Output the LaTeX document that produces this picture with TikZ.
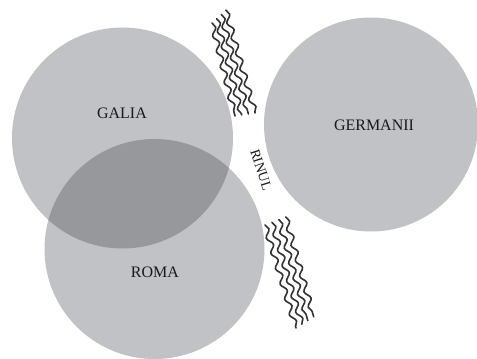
\documentclass[tikz,border=0pt]{standalone}
\usepackage{fontspec}
\setmainfont{Liberation Serif}
\usetikzlibrary{decorations.pathmorphing}
\definecolor{disc}{RGB}{192,194,197}
\definecolor{overlapc}{RGB}{150,152,155}
\definecolor{wave}{RGB}{50,50,52}
\tikzset{
  land/.style={fill=disc, draw=none},
  label/.style={font=\fontsize{16}{18}\selectfont, text=black!90},
  river/.style={draw=wave, line width=1.6pt, line cap=round,
    decorate, decoration={snake, amplitude=2.6pt, segment length=16pt}}
}
\begin{document}
\begin{tikzpicture}[x=1pt,y=-1pt]
\useasboundingbox (0,0) rectangle (477,359);
\fill[white] (0,0) rectangle (477,359);
% circles
\coordinate (cg) at (122.5,138);
\coordinate (cr) at (154.5,249);
\coordinate (cm) at (371,124.5);
\fill[land] (cg) circle (110.5pt);
\fill[land] (cr) circle (110pt);
\fill[land] (cm) circle (107pt);
\begin{scope}
  \clip (cg) circle (110.5pt);
  \fill[overlapc] (cr) circle (110pt);
\end{scope}
% labels
\node[label] (galia) at (122,113) {GALIA};
\node[label] (roma) at (155,272) {ROMA};
\node[label] (germ) at (374,125) {GERMANII};
\node[label, font=\fontsize{14}{15}\selectfont, rotate=-72, inner sep=0pt] (rin) at (261,170) {RINUL};
% rivers, top group
\foreach \k in {0,1,2,3}{
  \coordinate (ta\k) at ({212+4.6*\k},{23-4.3*\k});
  \coordinate (tb\k) at ({235+6.7*\k},{116-1*\k});
  \draw[river] (ta\k) -- (tb\k);
}
% rivers, bottom group
\foreach \k in {0,1,2,3}{
  \coordinate (ba\k) at ({265+6.9*\k},{225-2.7*\k});
  \coordinate (bb\k) at ({296+5.9*\k},{328-3.7*\k});
  \draw[river] (ba\k) -- (bb\k);
}
\end{tikzpicture}
\end{document}
